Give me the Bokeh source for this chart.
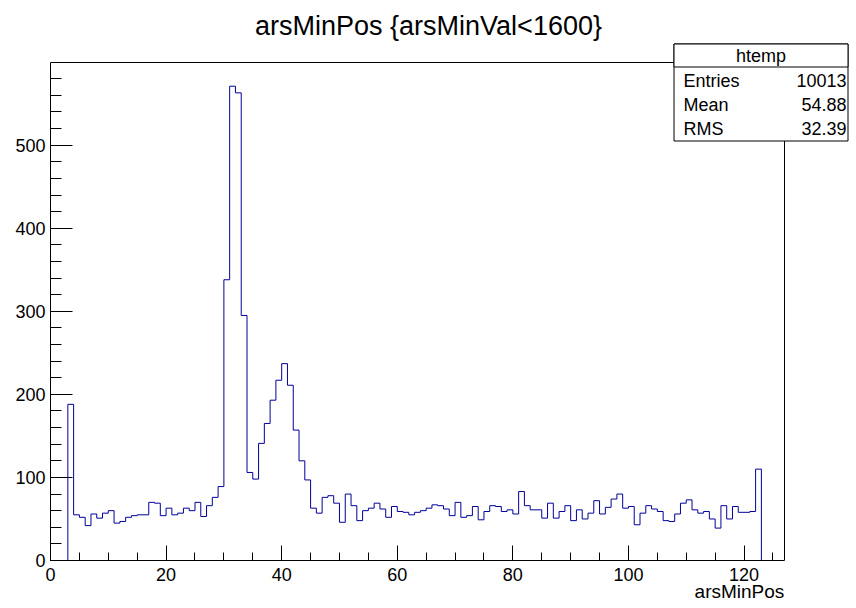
import numpy as np
from bokeh.plotting import figure
from bokeh.models import Range1d, SingleIntervalTicker, FixedTicker, LinearAxis, Label, BoxAnnotation
from bokeh.embed import file_html
from bokeh.resources import INLINE

# ---- data -------------------------------------------------------------
bin_low = 3
bin_width = 1
counts = [188, 55, 52, 42, 56, 51, 57, 60, 45, 47,
          52, 54, 55, 55, 70, 69, 54, 63, 55, 57,
          63, 60, 70, 53, 66, 76, 89, 338, 571, 563,
          295, 106, 98, 141, 165, 193, 217, 237, 211, 157,
          120, 97, 63, 57, 76, 78, 69, 46, 80, 66,
          48, 60, 63, 69, 62, 52, 65, 59, 58, 55,
          58, 60, 63, 67, 66, 62, 54, 70, 52, 54,
          65, 49, 59, 66, 65, 59, 61, 56, 83, 66,
          61, 61, 51, 69, 51, 59, 66, 48, 61, 50,
          57, 72, 56, 64, 74, 80, 63, 65, 43, 57,
          66, 62, 59, 48, 47, 56, 69, 73, 61, 57,
          59, 50, 39, 66, 50, 65, 58, 58, 59, 110]
x_start, x_end = 0, 127
title_text = "arsMinPos {arsMinVal<1600}"
x_label = "arsMinPos"
stats_name = "htemp"
stats_labels = ["Entries", "Mean", "RMS"]
stats_values = ["10013", "54.88", "32.39"]

# ---- histogram outline ------------------------------------------------
counts_arr = np.array(counts, dtype=float)
y_top = 1.05 * counts_arr.max()
edges = bin_low + bin_width * np.arange(len(counts) + 1)
xs = np.repeat(edges, 2)
ys = np.concatenate([[0.0], np.repeat(counts_arr, 2), [0.0]])

# ---- layout (pixels) ----------------------------------------------------
FONT = "Liberation Sans"
W, H = 856, 608
AX_L, AX_R, AX_T, AX_B = 50, 784, 62, 560      # ROOT axes box on the canvas
FW = W - AX_L                                   # bokeh frame spans to right / top edge
FH = AX_B
px_x = (AX_R - AX_L) / (x_end - x_start)
px_y = (AX_B - AX_T) / y_top

p = figure(width=W, height=H, output_backend="svg", toolbar_location=None,
           x_range=Range1d(x_start, x_start + FW / px_x),
           y_range=Range1d(0, FH / px_y),
           min_border_left=AX_L, min_border_right=0,
           min_border_top=0, min_border_bottom=H - AX_B)
p.background_fill_color = "white"
p.border_fill_color = "white"
p.outline_line_color = None
p.xgrid.visible = False
p.ygrid.visible = False

# axes box (top / right edges of the ROOT frame)
p.quad(left=[x_start], right=[x_end], bottom=[0], top=[y_top],
       fill_color=None, line_color="black", line_width=1)
p.line(xs, ys, line_color="#000099", line_width=1)

p.xaxis.ticker = SingleIntervalTicker(interval=20, num_minor_ticks=4)
p.yaxis.ticker = SingleIntervalTicker(interval=100, num_minor_ticks=5)
p.xaxis.bounds = (x_start, x_end)
p.yaxis.bounds = (0, y_top)
for ax in (p.xaxis[0], p.yaxis[0]):
    ax.axis_line_color = "black"
    ax.major_tick_line_color = "black"
    ax.minor_tick_line_color = "black"
    ax.major_tick_out = 0
    ax.minor_tick_out = 0
    ax.major_label_text_font = FONT
    ax.major_label_text_font_size = "18px"
    ax.major_label_text_color = "black"
p.xaxis.major_tick_in = 15
p.xaxis.minor_tick_in = 8
p.xaxis.major_label_standoff = 7
p.yaxis.major_tick_in = 22
p.yaxis.minor_tick_in = 11
p.yaxis.major_label_standoff = 5

# x axis title, right-aligned at the end of the axis (drawn as the single
# label of a second, line-less axis)
lab_w = 90.0
lab_c = round(x_end - (lab_w / 2) / px_x, 2)
xlab = LinearAxis(ticker=FixedTicker(ticks=[lab_c], minor_ticks=[]),
                  major_label_overrides={lab_c: x_label},
                  axis_line_color=None,
                  major_tick_line_color=None, minor_tick_line_color=None,
                  major_tick_out=0, minor_tick_out=0, major_tick_in=0, minor_tick_in=0,
                  major_label_standoff=-3, major_label_text_font=FONT,
                  major_label_text_font_size="19px", major_label_text_color="black")
p.add_layout(xlab, "below")

# ---- title ------------------------------------------------------------
p.add_layout(Label(x=428 - AX_L, y=AX_B - 25, x_units="screen", y_units="screen",
                   text=title_text, text_font=FONT, text_font_size="27px",
                   text_align="center", text_baseline="middle", text_color="black"))

# ---- stats box --------------------------------------------------------
def sx(px):
    return px - AX_L

def sy(py):
    return AX_B - py

bx_l, bx_r, bx_t, bx_b, bx_sep = sx(673.5), sx(847.5), sy(43.5), sy(140.5), sy(66.5)
for top, bottom in ((bx_t, bx_b), (bx_t, bx_sep)):
    p.add_layout(BoxAnnotation(left=bx_l, right=bx_r, top=top, bottom=bottom,
                               left_units="screen", right_units="screen",
                               top_units="screen", bottom_units="screen",
                               fill_color="white", fill_alpha=1.0,
                               line_color="black", line_width=1, line_alpha=1.0))
p.add_layout(Label(x=(bx_l + bx_r) / 2, y=(bx_t + bx_sep) / 2, x_units="screen", y_units="screen",
                   text=stats_name, text_font=FONT, text_font_size="18px",
                   text_align="center", text_baseline="middle", text_color="black"))
row_py = [80, 104, 128]
for lab, val, ry in zip(stats_labels, stats_values, row_py):
    p.add_layout(Label(x=sx(683), y=sy(ry), x_units="screen", y_units="screen",
                       text=lab, text_font=FONT, text_font_size="18px",
                       text_align="left", text_baseline="middle", text_color="black"))
    p.add_layout(Label(x=sx(846), y=sy(ry), x_units="screen", y_units="screen",
                       text=val, text_font=FONT, text_font_size="18px",
                       text_align="right", text_baseline="middle", text_color="black"))

open("out.html", "w").write(file_html(p, INLINE))
